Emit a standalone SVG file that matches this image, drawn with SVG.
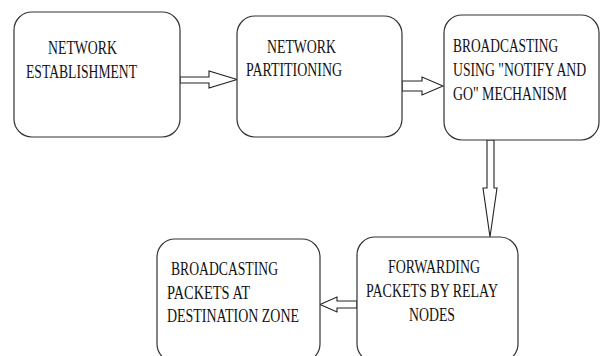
<svg xmlns="http://www.w3.org/2000/svg" width="601" height="356" viewBox="0 0 601 356">
<style>
.box{fill:#fff;stroke:#333;stroke-width:1.2}
.arr{fill:#fff;stroke:#222;stroke-width:1.1;stroke-linejoin:miter}
text{font-family:"Liberation Serif","Times New Roman",serif;font-size:19px;fill:#111}
</style>
<rect width="601" height="356" fill="#fff"/>
<g id="connectors">
<polygon class="arr" points="180,77 209,77 209,71 237,79.5 209,88 209,83 180,83"/>
<polygon class="arr" points="402,81 422,81 422,77 443,86 422,95 422,91 402,91"/>
<polygon class="arr" points="487,140 487,188 483,188 490,237 497,188 494,188 494,140"/>
<polygon class="arr" points="357,301 337,301 337,297 320,304.5 337,312 337,308 357,308"/>
</g>
<g id="n1">
<rect class="box" x="14" y="12" width="166" height="125" rx="18"/>
<text x="48" y="54" textLength="69" lengthAdjust="spacingAndGlyphs">NETWORK</text>
<text x="26" y="78" textLength="111" lengthAdjust="spacingAndGlyphs">ESTABLISHMENT</text>
</g>
<g id="n2">
<rect class="box" x="237" y="16" width="165" height="121" rx="18"/>
<text x="267" y="53" textLength="69" lengthAdjust="spacingAndGlyphs">NETWORK</text>
<text x="246" y="76" textLength="96" lengthAdjust="spacingAndGlyphs">PARTITIONING</text>
</g>
<g id="n3">
<rect class="box" x="444" y="15" width="155" height="125" rx="18"/>
<g transform="translate(453,0) scale(0.72,1)">
<text x="0" y="52" textLength="146" lengthAdjust="spacingAndGlyphs">BROADCASTING</text>
<text x="0" y="76" textLength="185" lengthAdjust="spacingAndGlyphs">USING &quot;NOTIFY AND</text>
<text x="0" y="100" textLength="158" lengthAdjust="spacingAndGlyphs">GO&quot; MECHANISM</text>
</g>
</g>
<g id="n4">
<rect class="box" x="357" y="237" width="161" height="125" rx="18"/>
<text x="388" y="273" textLength="92" lengthAdjust="spacingAndGlyphs">FORWARDING</text>
<text x="366" y="297" textLength="132" lengthAdjust="spacingAndGlyphs">PACKETS BY RELAY</text>
<text x="409" y="321" textLength="46" lengthAdjust="spacingAndGlyphs">NODES</text>
</g>
<g id="n5">
<rect class="box" x="157" y="239" width="163" height="123" rx="18"/>
<text x="171" y="275" textLength="107" lengthAdjust="spacingAndGlyphs">BROADCASTING</text>
<text x="167" y="299" textLength="83" lengthAdjust="spacingAndGlyphs">PACKETS AT</text>
<text x="167" y="322" textLength="132" lengthAdjust="spacingAndGlyphs">DESTINATION ZONE</text>
</g>
</svg>
